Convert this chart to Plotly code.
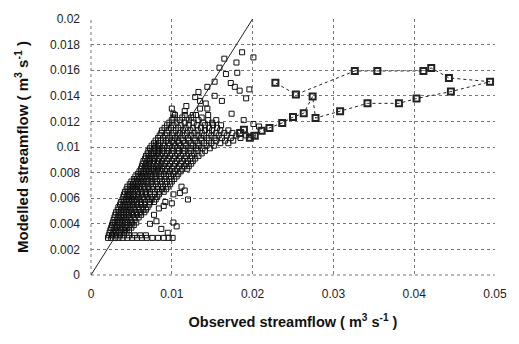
import plotly.graph_objects as go

# ---- data ----
# dense scatter cloud: rows of (modelled, [observed...])
cloud_rows = [
    (0.0029, [0.0021, 0.0025, 0.0030, 0.0034, 0.0039, 0.0045, 0.0051, 0.0057, 0.0063, 0.0069, 0.0076, 0.0083, 0.0090, 0.0096, 0.0101]),
    (0.0031, [0.0022, 0.0026, 0.0031, 0.0036, 0.0041, 0.0047, 0.0054, 0.0061, 0.0068]),
    (0.0033, [0.0023, 0.0027, 0.0031, 0.0035, 0.0039, 0.0044]),
    (0.0035, [0.0024, 0.0029, 0.0033, 0.0037, 0.0042, 0.0047]),
    (0.0037, [0.0025, 0.0028, 0.0032, 0.0036, 0.0040, 0.0045, 0.0050]),
    (0.0039, [0.0026, 0.0030, 0.0034, 0.0038, 0.0043, 0.0048, 0.0053]),
    (0.0041, [0.0027, 0.0030, 0.0034, 0.0038, 0.0042, 0.0046, 0.0051, 0.0056]),
    (0.0043, [0.0028, 0.0032, 0.0036, 0.0040, 0.0044, 0.0049, 0.0054]),
    (0.0045, [0.0029, 0.0033, 0.0037, 0.0041, 0.0045, 0.0049, 0.0054, 0.0059]),
    (0.0047, [0.0030, 0.0034, 0.0039, 0.0043, 0.0047, 0.0052, 0.0057, 0.0062]),
    (0.0049, [0.0031, 0.0035, 0.0039, 0.0043, 0.0047, 0.0051, 0.0056, 0.0061, 0.0066]),
    (0.0051, [0.0033, 0.0037, 0.0041, 0.0045, 0.0049, 0.0054, 0.0059, 0.0064, 0.0068]),
    (0.0053, [0.0034, 0.0038, 0.0042, 0.0046, 0.0050, 0.0054, 0.0059, 0.0064, 0.0070]),
    (0.0055, [0.0036, 0.0040, 0.0044, 0.0048, 0.0052, 0.0057, 0.0062, 0.0067, 0.0072]),
    (0.0057, [0.0037, 0.0041, 0.0045, 0.0049, 0.0053, 0.0057, 0.0062, 0.0067, 0.0073, 0.0078]),
    (0.0059, [0.0039, 0.0043, 0.0047, 0.0051, 0.0055, 0.0060, 0.0065, 0.0070, 0.0075, 0.0080]),
    (0.0061, [0.0040, 0.0044, 0.0048, 0.0052, 0.0056, 0.0060, 0.0065, 0.0070, 0.0076, 0.0082]),
    (0.0063, [0.0041, 0.0045, 0.0049, 0.0053, 0.0058, 0.0063, 0.0068, 0.0073, 0.0079, 0.0084]),
    (0.0065, [0.0042, 0.0046, 0.0050, 0.0054, 0.0058, 0.0063, 0.0068, 0.0073, 0.0079, 0.0085, 0.0090]),
    (0.0067, [0.0044, 0.0048, 0.0052, 0.0056, 0.0061, 0.0066, 0.0071, 0.0076, 0.0082, 0.0088, 0.0093]),
    (0.0069, [0.0045, 0.0049, 0.0053, 0.0057, 0.0061, 0.0066, 0.0071, 0.0077, 0.0083, 0.0089, 0.0095]),
    (0.0071, [0.0048, 0.0052, 0.0056, 0.0060, 0.0064, 0.0069, 0.0074, 0.0080, 0.0086, 0.0092, 0.0098]),
    (0.0073, [0.0050, 0.0054, 0.0058, 0.0062, 0.0066, 0.0071, 0.0076, 0.0082, 0.0088, 0.0094, 0.0100]),
    (0.0075, [0.0053, 0.0057, 0.0061, 0.0065, 0.0069, 0.0074, 0.0079, 0.0085, 0.0091, 0.0097, 0.0103]),
    (0.0077, [0.0055, 0.0059, 0.0063, 0.0067, 0.0071, 0.0076, 0.0081, 0.0087, 0.0093, 0.0099, 0.0106]),
    (0.0079, [0.0058, 0.0062, 0.0066, 0.0070, 0.0074, 0.0079, 0.0084, 0.0090, 0.0096, 0.0102, 0.0108]),
    (0.0081, [0.0060, 0.0064, 0.0068, 0.0072, 0.0076, 0.0081, 0.0086, 0.0092, 0.0098, 0.0104, 0.0111]),
    (0.0083, [0.0062, 0.0066, 0.0070, 0.0074, 0.0078, 0.0083, 0.0088, 0.0094, 0.0100, 0.0107, 0.0113, 0.0119]),
    (0.0085, [0.0063, 0.0067, 0.0071, 0.0075, 0.0080, 0.0085, 0.0090, 0.0096, 0.0102, 0.0109, 0.0116, 0.0121]),
    (0.0087, [0.0064, 0.0068, 0.0072, 0.0077, 0.0082, 0.0087, 0.0092, 0.0098, 0.0104, 0.0111, 0.0118, 0.0124]),
    (0.0089, [0.0065, 0.0069, 0.0073, 0.0078, 0.0083, 0.0088, 0.0094, 0.0100, 0.0106, 0.0113, 0.0120, 0.0126]),
    (0.0091, [0.0067, 0.0071, 0.0075, 0.0079, 0.0084, 0.0090, 0.0096, 0.0102, 0.0109, 0.0116, 0.0123, 0.0129]),
    (0.0093, [0.0068, 0.0072, 0.0076, 0.0081, 0.0086, 0.0092, 0.0098, 0.0104, 0.0111, 0.0118, 0.0125, 0.0133]),
    (0.0095, [0.0070, 0.0074, 0.0078, 0.0083, 0.0088, 0.0094, 0.0100, 0.0107, 0.0114, 0.0121, 0.0128, 0.0137]),
    (0.0097, [0.0071, 0.0075, 0.0080, 0.0085, 0.0090, 0.0096, 0.0102, 0.0109, 0.0116, 0.0124, 0.0132, 0.0141]),
    (0.0099, [0.0073, 0.0078, 0.0083, 0.0088, 0.0094, 0.0100, 0.0107, 0.0114, 0.0122, 0.0130, 0.0138, 0.0147]),
    (0.0101, [0.0075, 0.0080, 0.0085, 0.0091, 0.0097, 0.0104, 0.0111, 0.0118, 0.0126, 0.0134, 0.0143, 0.0152]),
    (0.0103, [0.0078, 0.0083, 0.0089, 0.0096, 0.0102, 0.0109, 0.0116, 0.0124, 0.0132, 0.0140, 0.0149, 0.0160, 0.0170]),
    (0.0105, [0.0080, 0.0086, 0.0093, 0.0100, 0.0107, 0.0114, 0.0121, 0.0129, 0.0137, 0.0146, 0.0155, 0.0166, 0.0176]),
    (0.0107, [0.0083, 0.0089, 0.0096, 0.0104, 0.0112, 0.0120, 0.0128, 0.0136, 0.0144, 0.0153, 0.0162, 0.0173, 0.0185, 0.0196]),
    (0.0109, [0.0085, 0.0092, 0.0100, 0.0108, 0.0116, 0.0124, 0.0132, 0.0140, 0.0149, 0.0158, 0.0168, 0.0180, 0.0192, 0.0200]),
    (0.0111, [0.0087, 0.0094, 0.0102, 0.0110, 0.0119, 0.0128, 0.0137, 0.0146, 0.0155, 0.0165, 0.0175]),
    (0.0113, [0.0088, 0.0096, 0.0105, 0.0114, 0.0123, 0.0132, 0.0141, 0.0150, 0.0160, 0.0170]),
    (0.0115, [0.0091, 0.0099, 0.0108, 0.0117, 0.0126, 0.0136, 0.0146, 0.0156]),
    (0.0117, [0.0094, 0.0102, 0.0111, 0.0121, 0.0131, 0.0141, 0.0151, 0.0161]),
    (0.0119, [0.0097, 0.0106, 0.0116, 0.0127, 0.0139, 0.0150]),
    (0.0121, [0.0100, 0.0110, 0.0121, 0.0133, 0.0145, 0.0155]),
    (0.0123, [0.0102, 0.0113, 0.0124, 0.0137]),
    (0.0125, [0.0104, 0.0116, 0.0130, 0.0145]),
]

# scattered points above the dense band
upper_x = [0.0187, 0.0201, 0.0165, 0.0159, 0.0180, 0.0167, 0.0181, 0.0153, 0.0144, 0.0173,
           0.0178, 0.0133, 0.0129, 0.0135, 0.0142, 0.0153, 0.0162, 0.0184, 0.0192, 0.0196,
           0.0118, 0.0100, 0.0102, 0.0116, 0.0126, 0.0135, 0.0144, 0.0174, 0.0189, 0.0201, 0.0208]
upper_y = [0.0174, 0.0170, 0.0169, 0.0162, 0.0166, 0.0157, 0.0158, 0.0151, 0.0147, 0.0150,
           0.0147, 0.0143, 0.0139, 0.0136, 0.0134, 0.0140, 0.0136, 0.0144, 0.0138, 0.0145,
           0.0132, 0.0130, 0.0126, 0.0128, 0.0125, 0.0130, 0.0130, 0.0126, 0.0121, 0.0118, 0.0116]

# scattered points below the dense band
lower_x = [0.0087, 0.0102, 0.0081, 0.0084, 0.0090, 0.0092, 0.0100, 0.0112, 0.0110, 0.0116,
           0.0120, 0.0102, 0.0106, 0.0095, 0.0078, 0.0073]
lower_y = [0.0036, 0.0041, 0.0042, 0.0052, 0.0054, 0.0057, 0.0056, 0.0069, 0.0064, 0.0066,
           0.0059, 0.0063, 0.0038, 0.0033, 0.0047, 0.0040]

# storm event loop (connected points)
event_x = [0.01845, 0.01893, 0.01966, 0.02027, 0.02112, 0.02209, 0.02367, 0.02500, 0.02633, 0.02743,
           0.02779, 0.03083, 0.03422, 0.03811, 0.04029, 0.04454, 0.04939, 0.04430, 0.04211, 0.04114,
           0.03544, 0.03265, 0.02536, 0.02282]
event_y = [0.01110, 0.01134, 0.01073, 0.01088, 0.01126, 0.01149, 0.01188, 0.01234, 0.01264, 0.01395,
           0.01226, 0.01280, 0.01341, 0.01341, 0.01379, 0.01433, 0.01510, 0.01540, 0.01617, 0.01594,
           0.01594, 0.01594, 0.01410, 0.01502]

one_to_one = [0.0, 0.02]

x_ticks = [0, 0.01, 0.02, 0.03, 0.04, 0.05]
x_ticktext = ["0", "0.01", "0.02", "0.03", "0.04", "0.05"]
y_ticks = [0, 0.002, 0.004, 0.006, 0.008, 0.01, 0.012, 0.014, 0.016, 0.018, 0.02]
y_ticktext = ["0", "0.002", "0.004", "0.006", "0.008", "0.01", "0.012", "0.014", "0.016", "0.018", "0.02"]

# ---- build ----
cloud_x, cloud_y = [], []
for yv, xs in cloud_rows:
    for xv in xs:
        cloud_x.append(xv)
        cloud_y.append(yv)
cloud_x += upper_x + lower_x
cloud_y += upper_y + lower_y

FONT = "Liberation Sans, Arial, sans-serif"

fig = go.Figure()
fig.add_trace(go.Scatter(
    x=cloud_x, y=cloud_y, mode="markers",
    marker=dict(symbol="square-open", size=5, color="#111", line=dict(width=1, color="#111")),
    showlegend=False, hoverinfo="skip"))
fig.add_trace(go.Scatter(
    x=event_x, y=event_y, mode="lines+markers",
    line=dict(color="#222", width=1, dash="dot"),
    marker=dict(symbol="square-open", size=6, color="#222", line=dict(width=2, color="#222")),
    showlegend=False, hoverinfo="skip"))
fig.add_trace(go.Scatter(
    x=one_to_one, y=one_to_one, mode="lines",
    line=dict(color="#222", width=1),
    showlegend=False, hoverinfo="skip"))

GRID = "#777"
axis_common = dict(
    showgrid=True, gridcolor=GRID, gridwidth=1, griddash="dot",
    zeroline=False, showline=False, ticks="",
    tickfont=dict(family=FONT, size=12, color="#222"),
)

fig.update_xaxes(
    range=[0, 0.05], tickvals=x_ticks, ticktext=x_ticktext,
    ticklabelstandoff=10,
    title=dict(text="<b>Observed streamflow ( m<sup>3</sup> s<sup>-1</sup> )</b>",
               font=dict(family=FONT, size=14.5, color="#111"), standoff=16),
    **axis_common)
fig.update_yaxes(
    range=[0, 0.02], tickvals=y_ticks, ticktext=y_ticktext,
    ticklabelstandoff=10,
    title=dict(text="<b>Modelled streamflow ( m<sup>3</sup> s<sup>-1</sup> )</b>",
               font=dict(family=FONT, size=15, color="#111"), standoff=17),
    **axis_common)

# dotted frame on the left and bottom edges (like the gridlines)
fig.add_shape(type="line", xref="paper", yref="paper", x0=0, x1=0, y0=0, y1=1,
              line=dict(color=GRID, width=1, dash="dot"), layer="below")
fig.add_shape(type="line", xref="paper", yref="paper", x0=0, x1=1, y0=0, y1=0,
              line=dict(color=GRID, width=1, dash="dot"), layer="below")

fig.update_layout(
    width=519, height=344,
    margin=dict(l=91, r=16, t=14, b=69),
    paper_bgcolor="white", plot_bgcolor="white",
    font=dict(family=FONT),
)

fig.write_html("out.html")
